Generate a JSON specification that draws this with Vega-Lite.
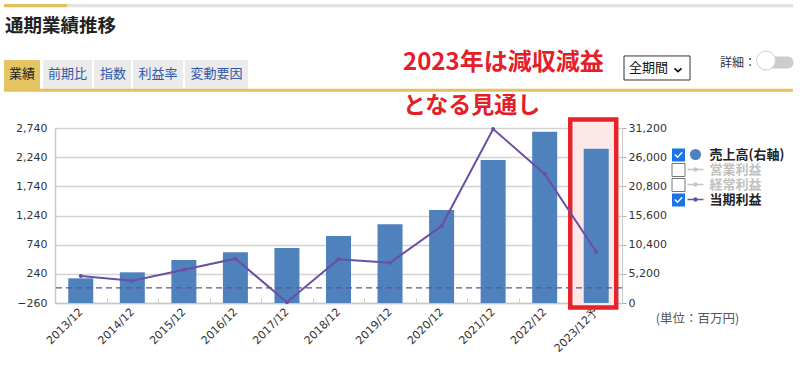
{
  "$schema": "https://vega.github.io/schema/vega-lite/v6.json",
  "width": 567,
  "height": 175,
  "autosize": {"type": "none"},
  "padding": {"left": 55, "top": 128, "right": 178, "bottom": 62},
  "background": "#ffffff",
  "config": {"view": {"stroke": null}, "font": "Noto Sans CJK JP"},
  "data": {"values": [
    {"period": "2013/12", "sales": 4400, "profit": 203},
    {"period": "2014/12", "sales": 5470, "profit": 122},
    {"period": "2015/12", "sales": 7670, "profit": 311},
    {"period": "2016/12", "sales": 9040, "profit": 500},
    {"period": "2017/12", "sales": 9800, "profit": -248},
    {"period": "2018/12", "sales": 11950, "profit": 489},
    {"period": "2019/12", "sales": 14030, "profit": 431},
    {"period": "2020/12", "sales": 16580, "profit": 1060},
    {"period": "2021/12", "sales": 25500, "profit": 2722},
    {"period": "2022/12", "sales": 30540, "profit": 1951},
    {"period": "2023/12予", "sales": 27510, "profit": 619}
  ]},
  "layer": [
    {
      "data": {"values": [{}]},
      "mark": {"type": "bar", "width": 46, "xOffset": -3, "fill": "#fde8e8", "stroke": "#e5232b", "strokeWidth": 4.5},
      "encoding": {
        "x": {"datum": "2023/12予", "type": "nominal"},
        "y": {"datum": 32716, "type": "quantitative", "scale": {"domain": [0, 31200], "nice": false, "zero": false}, "axis": null},
        "y2": {"datum": -802}
      }
    },
    {
      "mark": {"type": "bar", "width": 25},
      "encoding": {
        "x": {"field": "period", "type": "nominal", "sort": null,
          "scale": {"domain": ["2013/12","2014/12","2015/12","2016/12","2017/12","2018/12","2019/12","2020/12","2021/12","2022/12","2023/12予"], "paddingInner": 0, "paddingOuter": 0},
          "axis": {"title": null, "labelAngle": -45, "labelFont": "DejaVu Sans", "labelFontSize": 11, "labelColor": "#333333", "domainColor": "#c8c8c8", "domainWidth": 1.5, "tickBand": "extent", "tickSize": -5, "tickColor": "#d0d0d0", "tickWidth": 1, "labelPadding": 12, "grid": false}},
        "y": {"field": "sales", "type": "quantitative", "scale": {"domain": [0, 31200], "nice": false, "zero": false},
          "axis": {"orient": "right", "values": [0, 5200, 10400, 15600, 20800, 26000, 31200], "labelExpr": "format(datum.value, ',')", "labelOverlap": false, "title": "(単位：百万円)", "titleAngle": 0, "titleX": 75, "titleY": 190, "titleAlign": "center", "titleBaseline": "middle", "titleFont": "Noto Sans CJK JP", "titleFontSize": 12.5, "titleFontWeight": "normal", "titleColor": "#555555", "labelFont": "DejaVu Sans", "labelFontSize": 11, "labelColor": "#333333", "tickSize": 4, "tickColor": "#aaaaaa", "domainColor": "#cccccc", "domainWidth": 1, "labelPadding": 2, "grid": false}},
        "color": {"datum": "売上高(右軸)", "type": "nominal",
          "scale": {"domain": ["売上高(右軸)", "営業利益", "経常利益", "当期利益"], "range": ["#4F81BD", "#c4c4c4", "#c4c4c4", "#6A4FA5"]},
          "legend": {"orient": "none", "legendX": 632.5, "legendY": 18.5, "title": null, "padding": 0, "labelFont": "Noto Sans CJK JP", "labelFontSize": 13, "labelFontWeight": "bold", "rowPadding": -1, "labelOffset": 6, "symbolOffset": 0, "symbolType": "circle", "symbolSize": 256,
            "encode": {
              "symbols": {"update": {
                "shape": {"signal": "datum.value === '売上高(右軸)' ? 'circle' : 'M-1,-0.1H1V0.1H-1Z M-0.28,0A0.28,0.28 0 1,1 0.28,0A0.28,0.28 0 1,1 -0.28,0Z'"},
                "size": {"signal": "datum.value === '売上高(右軸)' ? 121 : 256"},
                "fill": {"scale": "color", "field": "value"},
                "strokeWidth": {"value": 0},
                "opacity": {"value": 1},
                "fillOpacity": {"value": 1}
              }},
              "labels": {"update": {"fill": {"signal": "datum.value === '営業利益' || datum.value === '経常利益' ? '#c0c0c0' : '#222222'"}}}
            }}}
      }
    },
    {
      "mark": {"type": "line", "strokeWidth": 2, "point": {"filled": true, "size": 16, "opacity": 1}},
      "encoding": {
        "x": {"field": "period", "type": "nominal", "sort": null, "scale": {"domain": ["2013/12","2014/12","2015/12","2016/12","2017/12","2018/12","2019/12","2020/12","2021/12","2022/12","2023/12予"], "paddingInner": 0, "paddingOuter": 0}},
        "y": {"field": "profit", "type": "quantitative", "scale": {"domain": [-260, 2740], "nice": false, "zero": false},
          "axis": {"orient": "left", "values": [-260, 240, 740, 1240, 1740, 2240, 2740], "labelExpr": "format(datum.value, ',')", "labelOverlap": false, "title": null, "grid": true, "gridColor": "#d3d3d3", "gridWidth": 1.5, "domainColor": "#c8c8c8", "domainWidth": 1.5, "ticks": false, "labelPadding": 8, "labelFont": "DejaVu Sans", "labelFontSize": 11, "labelColor": "#333333"}},
        "color": {"datum": "当期利益", "type": "nominal",
          "scale": {"domain": ["売上高(右軸)", "営業利益", "経常利益", "当期利益"], "range": ["#4F81BD", "#c4c4c4", "#c4c4c4", "#6A4FA5"]},
          "legend": {"orient": "none", "legendX": 632.5, "legendY": 18.5, "title": null, "padding": 0, "labelFont": "Noto Sans CJK JP", "labelFontSize": 13, "labelFontWeight": "bold", "rowPadding": -1, "labelOffset": 6, "symbolOffset": 0, "symbolType": "circle", "symbolSize": 256,
            "encode": {
              "symbols": {"update": {
                "shape": {"signal": "datum.value === '売上高(右軸)' ? 'circle' : 'M-1,-0.1H1V0.1H-1Z M-0.28,0A0.28,0.28 0 1,1 0.28,0A0.28,0.28 0 1,1 -0.28,0Z'"},
                "size": {"signal": "datum.value === '売上高(右軸)' ? 121 : 256"},
                "fill": {"scale": "color", "field": "value"},
                "strokeWidth": {"value": 0},
                "opacity": {"value": 1},
                "fillOpacity": {"value": 1}
              }},
              "labels": {"update": {"fill": {"signal": "datum.value === '営業利益' || datum.value === '経常利益' ? '#c0c0c0' : '#222222'"}}}
            }}}
      }
    },
    {
      "layer": [
        {"data": {"values": [{}]}, "mark": {"type": "rule", "color": "#5a5a8c", "strokeDash": [6, 4], "strokeWidth": 1.3},
         "encoding": {"y": {"datum": 0, "type": "quantitative", "scale": {"domain": [-260, 2740], "nice": false, "zero": false}, "axis": null}}},
        {"data": {"values": [{}]}, "mark": {"type": "point", "shape": "M-1,-0.052H1V0.052H-1Z", "size": 3969, "filled": true, "fill": "#e3c15f", "strokeWidth": 0, "opacity": 1, "xOffset": -19.5},
         "encoding": {"x": {"datum": "2013/12", "type": "nominal", "bandPosition": 0}, "y": {"datum": 4838, "type": "quantitative", "scale": {"domain": [-260, 2740], "nice": false, "zero": false}, "axis": null}}},
        {"data": {"values": [{}]}, "mark": {"type": "point", "shape": "M-1,-0.00455H1V0.00455H-1Z", "size": 527076, "filled": true, "fill": "#e2e2e2", "strokeWidth": 0, "opacity": 1, "xOffset": 375},
         "encoding": {"x": {"datum": "2013/12", "type": "nominal", "bandPosition": 0}, "y": {"datum": 4838, "type": "quantitative", "scale": {"domain": [-260, 2740], "nice": false, "zero": false}, "axis": null}}},
        {"data": {"values": [{}]}, "mark": {"type": "text", "text": "通期業績推移", "align": "left", "baseline": "middle", "dx": -50, "font": "Noto Sans CJK JP", "fontSize": 18.5, "fontWeight": "bold", "color": "#222222"},
         "encoding": {"x": {"datum": "2013/12", "type": "nominal", "bandPosition": 0}, "y": {"datum": 4497, "type": "quantitative", "scale": {"domain": [-260, 2740], "nice": false, "zero": false}, "axis": null}}},
        {"data": {"values": [{}]}, "mark": {"type": "point", "shape": "M-1,-0.806H1V0.806H-1Z", "size": 1296, "filled": true, "fill": "#e5c464", "strokeWidth": 0, "opacity": 1, "xOffset": -33},
         "encoding": {"x": {"datum": "2013/12", "type": "nominal", "bandPosition": 0}, "y": {"datum": 3657, "type": "quantitative", "scale": {"domain": [-260, 2740], "nice": false, "zero": false}, "axis": null}}},
        {"data": {"values": [{}]}, "mark": {"type": "point", "shape": "M-1,-0.592H1V0.592H-1Z", "size": 2401, "filled": true, "fill": "#ebebeb", "strokeWidth": 0, "opacity": 1, "xOffset": 12.5},
         "encoding": {"x": {"datum": "2013/12", "type": "nominal", "bandPosition": 0}, "y": {"datum": 3657, "type": "quantitative", "scale": {"domain": [-260, 2740], "nice": false, "zero": false}, "axis": null}}},
        {"data": {"values": [{}]}, "mark": {"type": "point", "shape": "M-1,-0.784H1V0.784H-1Z", "size": 1369, "filled": true, "fill": "#ebebeb", "strokeWidth": 0, "opacity": 1, "xOffset": 57.5},
         "encoding": {"x": {"datum": "2013/12", "type": "nominal", "bandPosition": 0}, "y": {"datum": 3657, "type": "quantitative", "scale": {"domain": [-260, 2740], "nice": false, "zero": false}, "axis": null}}},
        {"data": {"values": [{}]}, "mark": {"type": "point", "shape": "M-1,-0.58H1V0.58H-1Z", "size": 2500, "filled": true, "fill": "#ebebeb", "strokeWidth": 0, "opacity": 1, "xOffset": 103},
         "encoding": {"x": {"datum": "2013/12", "type": "nominal", "bandPosition": 0}, "y": {"datum": 3657, "type": "quantitative", "scale": {"domain": [-260, 2740], "nice": false, "zero": false}, "axis": null}}},
        {"data": {"values": [{}]}, "mark": {"type": "point", "shape": "M-1,-0.46H1V0.46H-1Z", "size": 3969, "filled": true, "fill": "#ebebeb", "strokeWidth": 0, "opacity": 1, "xOffset": 161.5},
         "encoding": {"x": {"datum": "2013/12", "type": "nominal", "bandPosition": 0}, "y": {"datum": 3657, "type": "quantitative", "scale": {"domain": [-260, 2740], "nice": false, "zero": false}, "axis": null}}},
        {"data": {"values": [{}]}, "mark": {"type": "point", "shape": "M-1,-0.0038H1V0.0038H-1Z", "size": 622521, "filled": true, "fill": "#e3c15f", "strokeWidth": 0, "opacity": 1, "xOffset": 343.5},
         "encoding": {"x": {"datum": "2013/12", "type": "nominal", "bandPosition": 0}, "y": {"datum": 3386, "type": "quantitative", "scale": {"domain": [-260, 2740], "nice": false, "zero": false}, "axis": null}}},
        {"data": {"values": [{}]}, "mark": {"type": "text", "text": "業績", "align": "center", "baseline": "middle", "dx": -33, "font": "Noto Sans CJK JP", "fontSize": 13, "color": "#222222"},
         "encoding": {"x": {"datum": "2013/12", "type": "nominal", "bandPosition": 0}, "y": {"datum": 3666, "type": "quantitative", "scale": {"domain": [-260, 2740], "nice": false, "zero": false}, "axis": null}}},
        {"data": {"values": [{}]}, "mark": {"type": "text", "text": "前期比", "align": "center", "baseline": "middle", "dx": 12.5, "font": "Noto Sans CJK JP", "fontSize": 13, "color": "#2e5aa8"},
         "encoding": {"x": {"datum": "2013/12", "type": "nominal", "bandPosition": 0}, "y": {"datum": 3666, "type": "quantitative", "scale": {"domain": [-260, 2740], "nice": false, "zero": false}, "axis": null}}},
        {"data": {"values": [{}]}, "mark": {"type": "text", "text": "指数", "align": "center", "baseline": "middle", "dx": 58, "font": "Noto Sans CJK JP", "fontSize": 13, "color": "#2e5aa8"},
         "encoding": {"x": {"datum": "2013/12", "type": "nominal", "bandPosition": 0}, "y": {"datum": 3666, "type": "quantitative", "scale": {"domain": [-260, 2740], "nice": false, "zero": false}, "axis": null}}},
        {"data": {"values": [{}]}, "mark": {"type": "text", "text": "利益率", "align": "center", "baseline": "middle", "dx": 103, "font": "Noto Sans CJK JP", "fontSize": 13, "color": "#2e5aa8"},
         "encoding": {"x": {"datum": "2013/12", "type": "nominal", "bandPosition": 0}, "y": {"datum": 3666, "type": "quantitative", "scale": {"domain": [-260, 2740], "nice": false, "zero": false}, "axis": null}}},
        {"data": {"values": [{}]}, "mark": {"type": "text", "text": "変動要因", "align": "center", "baseline": "middle", "dx": 161.5, "font": "Noto Sans CJK JP", "fontSize": 13, "color": "#2e5aa8"},
         "encoding": {"x": {"datum": "2013/12", "type": "nominal", "bandPosition": 0}, "y": {"datum": 3666, "type": "quantitative", "scale": {"domain": [-260, 2740], "nice": false, "zero": false}, "axis": null}}},
        {"data": {"values": [{}]}, "mark": {"type": "text", "text": "2023年は減収減益", "align": "left", "baseline": "middle", "dx": 348, "font": "Noto Sans CJK JP", "fontSize": 24, "fontWeight": "bold", "color": "#e3202a"},
         "encoding": {"x": {"datum": "2013/12", "type": "nominal", "bandPosition": 0}, "y": {"datum": 3860, "type": "quantitative", "scale": {"domain": [-260, 2740], "nice": false, "zero": false}, "axis": null}}},
        {"data": {"values": [{}]}, "mark": {"type": "text", "text": "となる見通し", "align": "left", "baseline": "middle", "dx": 348, "font": "Noto Sans CJK JP", "fontSize": 23, "fontWeight": "bold", "color": "#e3202a"},
         "encoding": {"x": {"datum": "2013/12", "type": "nominal", "bandPosition": 0}, "y": {"datum": 3125, "type": "quantitative", "scale": {"domain": [-260, 2740], "nice": false, "zero": false}, "axis": null}}},
        {"data": {"values": [{}]}, "mark": {"type": "point", "shape": "M-1,-0.364H1V0.364H-1Z", "size": 4356, "filled": false, "stroke": "#333333", "strokeWidth": 1, "opacity": 1, "xOffset": 602},
         "encoding": {"x": {"datum": "2013/12", "type": "nominal", "bandPosition": 0}, "y": {"datum": 3769, "type": "quantitative", "scale": {"domain": [-260, 2740], "nice": false, "zero": false}, "axis": null}}},
        {"data": {"values": [{}]}, "mark": {"type": "text", "text": "全期間", "align": "left", "baseline": "middle", "dx": 574, "font": "Noto Sans CJK JP", "fontSize": 13, "color": "#111111"},
         "encoding": {"x": {"datum": "2013/12", "type": "nominal", "bandPosition": 0}, "y": {"datum": 3769, "type": "quantitative", "scale": {"domain": [-260, 2740], "nice": false, "zero": false}, "axis": null}}},
        {"data": {"values": [{}]}, "mark": {"type": "point", "shape": "M-1,-0.45L0,0.45L1,-0.45", "size": 49, "filled": false, "stroke": "#111111", "strokeWidth": 1.8, "opacity": 1, "xOffset": 623},
         "encoding": {"x": {"datum": "2013/12", "type": "nominal", "bandPosition": 0}, "y": {"datum": 3734, "type": "quantitative", "scale": {"domain": [-260, 2740], "nice": false, "zero": false}, "axis": null}}},
        {"data": {"values": [{}]}, "mark": {"type": "text", "text": "詳細：", "align": "left", "baseline": "middle", "dx": 665, "font": "Noto Sans CJK JP", "fontSize": 12, "color": "#333333"},
         "encoding": {"x": {"datum": "2013/12", "type": "nominal", "bandPosition": 0}, "y": {"datum": 3854, "type": "quantitative", "scale": {"domain": [-260, 2740], "nice": false, "zero": false}, "axis": null}}},
        {"data": {"values": [{}]}, "mark": {"type": "point", "shape": "M-0.66,-0.34H0.66A0.34,0.34 0 0,1 0.66,0.34H-0.66A0.34,0.34 0 0,1 -0.66,-0.34Z", "size": 1225, "filled": true, "fill": "#cccccc", "strokeWidth": 0, "opacity": 1, "xOffset": 721},
         "encoding": {"x": {"datum": "2013/12", "type": "nominal", "bandPosition": 0}, "y": {"datum": 3863, "type": "quantitative", "scale": {"domain": [-260, 2740], "nice": false, "zero": false}, "axis": null}}},
        {"data": {"values": [{}]}, "mark": {"type": "point", "shape": "circle", "size": 361, "filled": true, "fill": "#ffffff", "stroke": "#d0d0d0", "strokeWidth": 1, "opacity": 1, "xOffset": 711},
         "encoding": {"x": {"datum": "2013/12", "type": "nominal", "bandPosition": 0}, "y": {"datum": 3897, "type": "quantitative", "scale": {"domain": [-260, 2740], "nice": false, "zero": false}, "axis": null}}},
        {"data": {"values": [{}]}, "mark": {"type": "point", "shape": "M-1,-1H1V1H-1Z M-0.65,0L-0.15,0.5L0.65,-0.35L0.5,-0.5L-0.15,0.2L-0.5,-0.15Z", "size": 169, "filled": true, "fill": "#1a73e8", "strokeWidth": 0, "opacity": 1, "xOffset": 623.5},
         "encoding": {"x": {"datum": "2013/12", "type": "nominal", "bandPosition": 0}, "y": {"datum": 2277, "type": "quantitative", "scale": {"domain": [-260, 2740], "nice": false, "zero": false}, "axis": null}}},
        {"data": {"values": [{}]}, "mark": {"type": "point", "shape": "M-1,-1H1V1H-1Z", "size": 169, "filled": true, "fill": "#ffffff", "stroke": "#767676", "strokeWidth": 1, "opacity": 1, "xOffset": 623.5},
         "encoding": {"x": {"datum": "2013/12", "type": "nominal", "bandPosition": 0}, "y": {"datum": 2020, "type": "quantitative", "scale": {"domain": [-260, 2740], "nice": false, "zero": false}, "axis": null}}},
        {"data": {"values": [{}]}, "mark": {"type": "point", "shape": "M-1,-1H1V1H-1Z", "size": 169, "filled": true, "fill": "#ffffff", "stroke": "#767676", "strokeWidth": 1, "opacity": 1, "xOffset": 623.5},
         "encoding": {"x": {"datum": "2013/12", "type": "nominal", "bandPosition": 0}, "y": {"datum": 1763, "type": "quantitative", "scale": {"domain": [-260, 2740], "nice": false, "zero": false}, "axis": null}}},
        {"data": {"values": [{}]}, "mark": {"type": "point", "shape": "M-1,-1H1V1H-1Z M-0.65,0L-0.15,0.5L0.65,-0.35L0.5,-0.5L-0.15,0.2L-0.5,-0.15Z", "size": 169, "filled": true, "fill": "#1a73e8", "strokeWidth": 0, "opacity": 1, "xOffset": 623.5},
         "encoding": {"x": {"datum": "2013/12", "type": "nominal", "bandPosition": 0}, "y": {"datum": 1506, "type": "quantitative", "scale": {"domain": [-260, 2740], "nice": false, "zero": false}, "axis": null}}}
      ]
    }
  ],
  "resolve": {"scale": {"y": "independent"}}
}
